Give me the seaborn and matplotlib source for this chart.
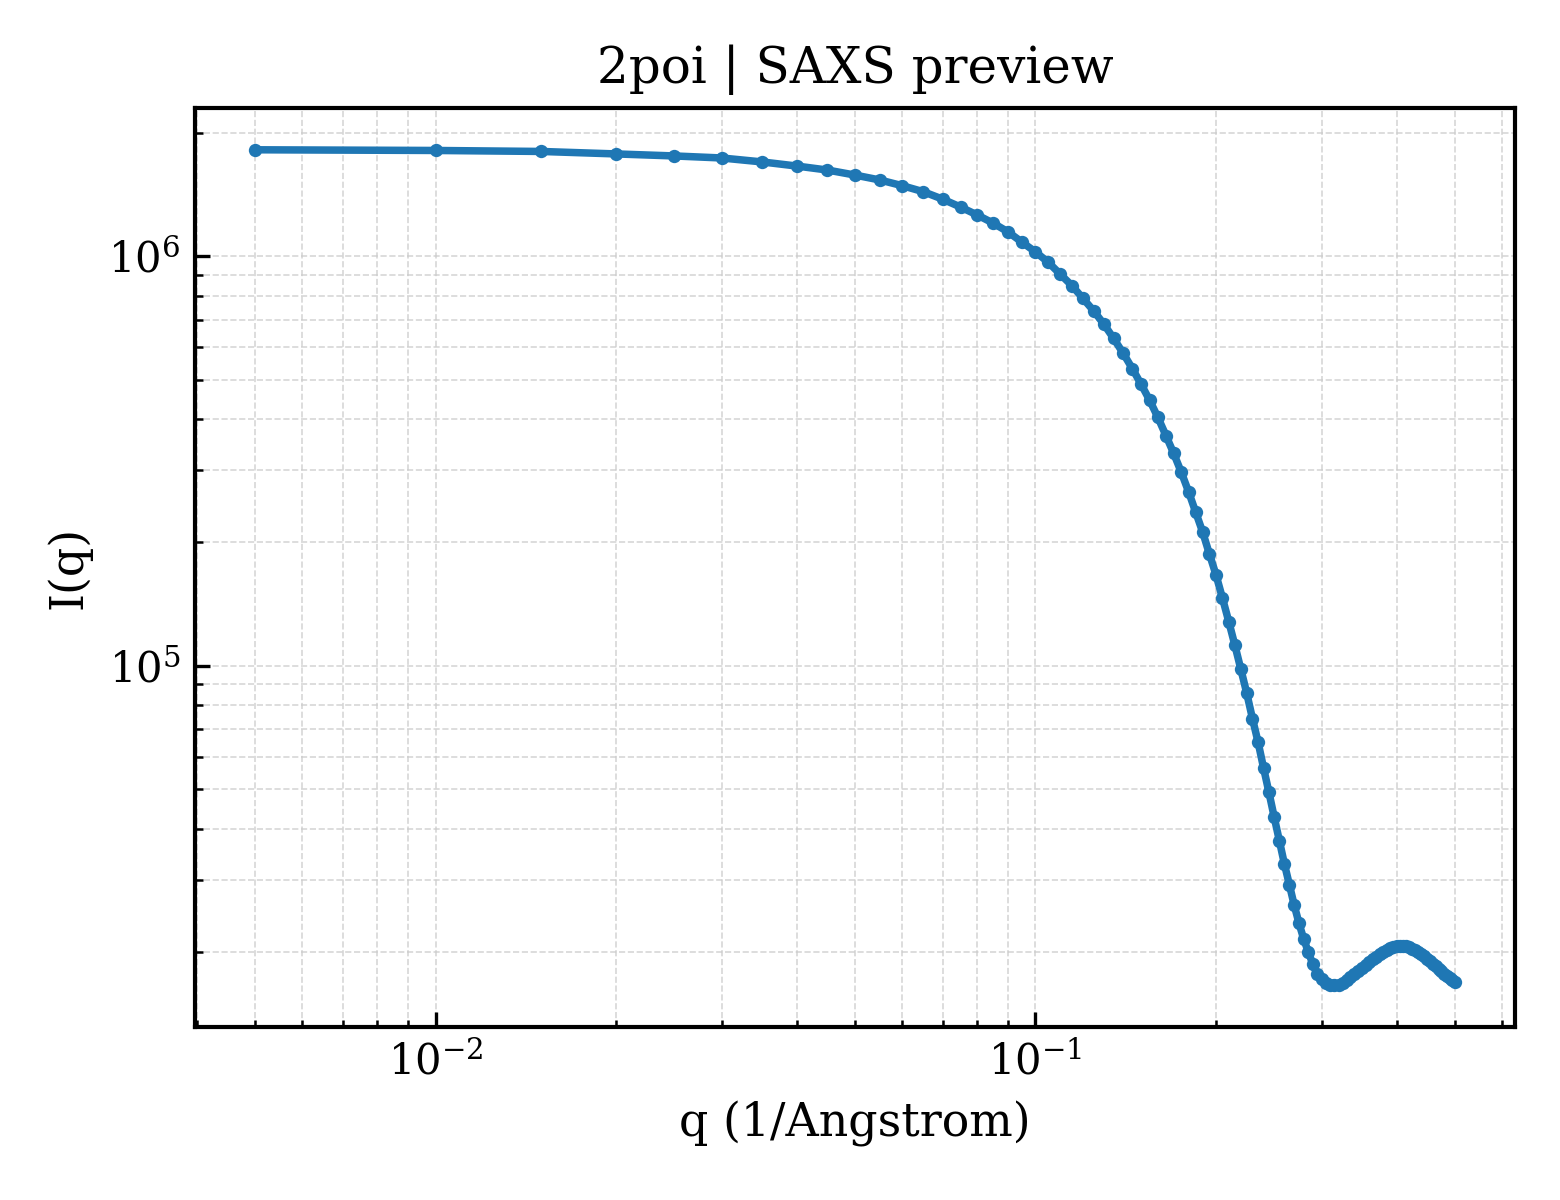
import seaborn as sns
import matplotlib
matplotlib.use("Agg")
import matplotlib.pyplot as plt
import pandas as pd

# q values (1/Angstrom)
q = [0.005, 0.010, 0.015, 0.020, 0.025, 0.030, 0.035, 0.040, 0.045, 0.050,
     0.055, 0.060, 0.065, 0.070, 0.075, 0.080, 0.085, 0.090, 0.095, 0.100,
     0.105, 0.110, 0.115, 0.120, 0.125, 0.130, 0.135, 0.140, 0.145, 0.150,
     0.155, 0.160, 0.165, 0.170, 0.175, 0.180, 0.185, 0.190, 0.195, 0.200,
     0.205, 0.210, 0.215, 0.220, 0.225, 0.230, 0.235, 0.240, 0.245, 0.250,
     0.255, 0.260, 0.265, 0.270, 0.275, 0.280, 0.285, 0.290, 0.295, 0.300,
     0.305, 0.310, 0.315, 0.320, 0.325, 0.330, 0.335, 0.340, 0.345, 0.350,
     0.355, 0.360, 0.365, 0.370, 0.375, 0.380, 0.385, 0.390, 0.395, 0.400,
     0.405, 0.410, 0.415, 0.420, 0.425, 0.430, 0.435, 0.440, 0.445, 0.450,
     0.455, 0.460, 0.465, 0.470, 0.475, 0.480, 0.485, 0.490, 0.495, 0.500]

# intensity I(q)
intensity = [1.820e6, 1.813e6, 1.803e6, 1.778e6, 1.758e6, 1.738e6, 1.700e6, 1.661e6, 1.624e6, 1.579e6,
             1.536e6, 1.487e6, 1.438e6, 1.379e6, 1.319e6, 1.261e6, 1.205e6, 1.147e6, 1.082e6, 1.025e6,
             9.67e5, 9.04e5, 8.48e5, 7.89e5, 7.36e5, 6.83e5, 6.30e5, 5.80e5, 5.32e5, 4.87e5,
             4.45e5, 4.04e5, 3.65e5, 3.30e5, 2.97e5, 2.66e5, 2.37e5, 2.12e5, 1.873e5, 1.666e5,
             1.462e5, 1.282e5, 1.122e5, 9.80e4, 8.57e4, 7.43e4, 6.51e4, 5.63e4, 4.91e4, 4.27e4,
             3.74e4, 3.28e4, 2.92e4, 2.60e4, 2.35e4, 2.15e4, 2.00e4, 1.866e4, 1.763e4, 1.714e4,
             1.676e4, 1.662e4, 1.657e4, 1.662e4, 1.680e4, 1.704e4, 1.734e4, 1.763e4, 1.793e4, 1.824e4,
             1.855e4, 1.886e4, 1.918e4, 1.945e4, 1.973e4, 2.001e4, 2.024e4, 2.041e4, 2.053e4, 2.064e4,
             2.068e4, 2.068e4, 2.064e4, 2.053e4, 2.035e4, 2.018e4, 1.995e4, 1.973e4, 1.951e4, 1.923e4,
             1.897e4, 1.870e4, 1.844e4, 1.818e4, 1.793e4, 1.768e4, 1.743e4, 1.723e4, 1.704e4, 1.685e4]

title = "2poi | SAXS preview"

df = pd.DataFrame({"q": q, "I": intensity})

sns.set_theme(style="white")
plt.rcParams["font.family"] = ["DejaVu Serif"]
plt.rcParams["mathtext.fontset"] = "dejavuserif"
plt.rcParams["text.color"] = "black"
plt.rcParams["axes.labelcolor"] = "black"

fig, ax = plt.subplots(figsize=(5.2, 4.0), dpi=300)
fig.subplots_adjust(left=0.125, right=0.971, top=0.91, bottom=0.144)

sns.lineplot(data=df, x="q", y="I", ax=ax, color="#1f77b4", linewidth=1.8,
             marker="o", markersize=3.2, markeredgewidth=0)

ax.set_xscale("log")
ax.set_yscale("log")
ax.set_xlabel("q (1/Angstrom)", fontsize=11, color="black")
ax.set_ylabel("I(q)", fontsize=11, color="black")
ax.set_title(title, fontsize=12, color="black")

ax.grid(True, which="both", linestyle="--", linewidth=0.4, color="#cccccc", alpha=0.8)
ax.tick_params(which="both", direction="in", colors="black", labelsize=10)
ax.tick_params(which="major", length=3.5, width=0.8)
ax.tick_params(which="minor", length=1.8, width=0.6)
ax.tick_params(axis="both", which="both", bottom=True, left=True, top=False, right=False)
for s in ax.spines.values():
    s.set_color("black")
    s.set_linewidth(1.0)

fig.savefig("out.png", dpi=300)
